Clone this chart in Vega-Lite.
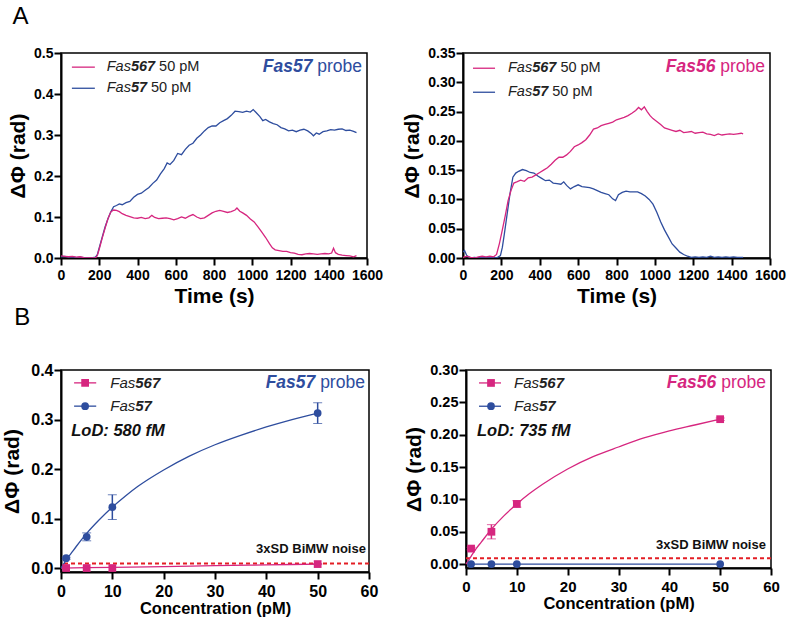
{
 "$schema": "https://vega.github.io/schema/vega-lite/v6.json",
 "background": "white",
 "padding": {"left": 1, "top": 4, "right": 0, "bottom": 0},
 "config": {
  "font": "Liberation Sans",
  "view": {"stroke": "black", "strokeWidth": 1.5},
  "axis": {"domainColor": "black", "domainWidth": 2, "tickColor": "black", "tickWidth": 2, "tickSize": 7, "labelColor": "black", "titleColor": "black", "labelFontWeight": "bold", "titleFontWeight": "bold", "grid": false, "labelOverlap": false, "labelFlush": false, "labelBound": false, "labelFont": "Liberation Sans", "titleFont": "Liberation Sans"},
  "text": {"font": "Liberation Sans", "color": "black"}
 },
 "datasets": {
  "a1": [
   {"series":"Fas57","time":0,"dphi":0.003},{"series":"Fas57","time":20,"dphi":0.004},{"series":"Fas57","time":40,"dphi":0.002},{"series":"Fas57","time":60,"dphi":0.003},{"series":"Fas57","time":80,"dphi":0.001},{"series":"Fas57","time":100,"dphi":0.002},{"series":"Fas57","time":120,"dphi":0.001},{"series":"Fas57","time":140,"dphi":0.0},{"series":"Fas57","time":160,"dphi":0.0},{"series":"Fas57","time":180,"dphi":0.002},{"series":"Fas57","time":190,"dphi":0.008},{"series":"Fas57","time":200,"dphi":0.025},{"series":"Fas57","time":215,"dphi":0.05},{"series":"Fas57","time":230,"dphi":0.075},{"series":"Fas57","time":245,"dphi":0.095},{"series":"Fas57","time":260,"dphi":0.112},{"series":"Fas57","time":275,"dphi":0.125},{"series":"Fas57","time":290,"dphi":0.128},{"series":"Fas57","time":305,"dphi":0.132},{"series":"Fas57","time":320,"dphi":0.13},{"series":"Fas57","time":340,"dphi":0.135},{"series":"Fas57","time":360,"dphi":0.138},{"series":"Fas57","time":380,"dphi":0.148},{"series":"Fas57","time":400,"dphi":0.155},{"series":"Fas57","time":420,"dphi":0.158},{"series":"Fas57","time":440,"dphi":0.165},{"series":"Fas57","time":460,"dphi":0.172},{"series":"Fas57","time":480,"dphi":0.182},{"series":"Fas57","time":500,"dphi":0.19},{"series":"Fas57","time":520,"dphi":0.205},{"series":"Fas57","time":540,"dphi":0.218},{"series":"Fas57","time":555,"dphi":0.232},{"series":"Fas57","time":570,"dphi":0.228},{"series":"Fas57","time":590,"dphi":0.238},{"series":"Fas57","time":610,"dphi":0.255},{"series":"Fas57","time":630,"dphi":0.252},{"series":"Fas57","time":650,"dphi":0.265},{"series":"Fas57","time":670,"dphi":0.275},{"series":"Fas57","time":690,"dphi":0.28},{"series":"Fas57","time":710,"dphi":0.292},{"series":"Fas57","time":730,"dphi":0.3},{"series":"Fas57","time":750,"dphi":0.31},{"series":"Fas57","time":770,"dphi":0.318},{"series":"Fas57","time":790,"dphi":0.322},{"series":"Fas57","time":810,"dphi":0.322},{"series":"Fas57","time":830,"dphi":0.33},{"series":"Fas57","time":850,"dphi":0.335},{"series":"Fas57","time":870,"dphi":0.34},{"series":"Fas57","time":890,"dphi":0.348},{"series":"Fas57","time":910,"dphi":0.358},{"series":"Fas57","time":930,"dphi":0.357},{"series":"Fas57","time":950,"dphi":0.355},{"series":"Fas57","time":970,"dphi":0.358},{"series":"Fas57","time":990,"dphi":0.356},{"series":"Fas57","time":1005,"dphi":0.362},{"series":"Fas57","time":1020,"dphi":0.355},{"series":"Fas57","time":1040,"dphi":0.345},{"series":"Fas57","time":1055,"dphi":0.335},{"series":"Fas57","time":1070,"dphi":0.338},{"series":"Fas57","time":1090,"dphi":0.332},{"series":"Fas57","time":1110,"dphi":0.328},{"series":"Fas57","time":1130,"dphi":0.325},{"series":"Fas57","time":1150,"dphi":0.318},{"series":"Fas57","time":1170,"dphi":0.315},{"series":"Fas57","time":1190,"dphi":0.31},{"series":"Fas57","time":1210,"dphi":0.312},{"series":"Fas57","time":1230,"dphi":0.308},{"series":"Fas57","time":1250,"dphi":0.312},{"series":"Fas57","time":1270,"dphi":0.314},{"series":"Fas57","time":1290,"dphi":0.31},{"series":"Fas57","time":1310,"dphi":0.303},{"series":"Fas57","time":1320,"dphi":0.298},{"series":"Fas57","time":1335,"dphi":0.305},{"series":"Fas57","time":1350,"dphi":0.302},{"series":"Fas57","time":1370,"dphi":0.308},{"series":"Fas57","time":1390,"dphi":0.31},{"series":"Fas57","time":1410,"dphi":0.313},{"series":"Fas57","time":1430,"dphi":0.312},{"series":"Fas57","time":1450,"dphi":0.314},{"series":"Fas57","time":1470,"dphi":0.315},{"series":"Fas57","time":1490,"dphi":0.311},{"series":"Fas57","time":1510,"dphi":0.312},{"series":"Fas57","time":1530,"dphi":0.309},{"series":"Fas57","time":1545,"dphi":0.306},
   {"series":"Fas567","time":0,"dphi":0.005},{"series":"Fas567","time":20,"dphi":0.004},{"series":"Fas567","time":40,"dphi":0.003},{"series":"Fas567","time":60,"dphi":0.004},{"series":"Fas567","time":80,"dphi":0.002},{"series":"Fas567","time":100,"dphi":0.003},{"series":"Fas567","time":120,"dphi":0.001},{"series":"Fas567","time":140,"dphi":0.0},{"series":"Fas567","time":160,"dphi":0.0},{"series":"Fas567","time":180,"dphi":0.0},{"series":"Fas567","time":190,"dphi":0.006},{"series":"Fas567","time":200,"dphi":0.022},{"series":"Fas567","time":215,"dphi":0.048},{"series":"Fas567","time":230,"dphi":0.072},{"series":"Fas567","time":245,"dphi":0.095},{"series":"Fas567","time":260,"dphi":0.112},{"series":"Fas567","time":275,"dphi":0.117},{"series":"Fas567","time":290,"dphi":0.116},{"series":"Fas567","time":305,"dphi":0.113},{"series":"Fas567","time":320,"dphi":0.108},{"series":"Fas567","time":340,"dphi":0.104},{"series":"Fas567","time":360,"dphi":0.101},{"series":"Fas567","time":380,"dphi":0.098},{"series":"Fas567","time":400,"dphi":0.097},{"series":"Fas567","time":420,"dphi":0.099},{"series":"Fas567","time":440,"dphi":0.096},{"series":"Fas567","time":460,"dphi":0.098},{"series":"Fas567","time":475,"dphi":0.104},{"series":"Fas567","time":490,"dphi":0.099},{"series":"Fas567","time":510,"dphi":0.096},{"series":"Fas567","time":530,"dphi":0.097},{"series":"Fas567","time":550,"dphi":0.098},{"series":"Fas567","time":570,"dphi":0.096},{"series":"Fas567","time":590,"dphi":0.093},{"series":"Fas567","time":610,"dphi":0.096},{"series":"Fas567","time":630,"dphi":0.1},{"series":"Fas567","time":650,"dphi":0.097},{"series":"Fas567","time":670,"dphi":0.102},{"series":"Fas567","time":690,"dphi":0.106},{"series":"Fas567","time":710,"dphi":0.1},{"series":"Fas567","time":730,"dphi":0.096},{"series":"Fas567","time":750,"dphi":0.098},{"series":"Fas567","time":770,"dphi":0.104},{"series":"Fas567","time":790,"dphi":0.11},{"series":"Fas567","time":810,"dphi":0.114},{"series":"Fas567","time":830,"dphi":0.116},{"series":"Fas567","time":850,"dphi":0.114},{"series":"Fas567","time":870,"dphi":0.111},{"series":"Fas567","time":890,"dphi":0.113},{"series":"Fas567","time":910,"dphi":0.117},{"series":"Fas567","time":920,"dphi":0.122},{"series":"Fas567","time":935,"dphi":0.114},{"series":"Fas567","time":950,"dphi":0.11},{"series":"Fas567","time":970,"dphi":0.104},{"series":"Fas567","time":990,"dphi":0.095},{"series":"Fas567","time":1010,"dphi":0.088},{"series":"Fas567","time":1030,"dphi":0.076},{"series":"Fas567","time":1050,"dphi":0.063},{"series":"Fas567","time":1070,"dphi":0.05},{"series":"Fas567","time":1090,"dphi":0.035},{"series":"Fas567","time":1105,"dphi":0.025},{"series":"Fas567","time":1120,"dphi":0.02},{"series":"Fas567","time":1140,"dphi":0.018},{"series":"Fas567","time":1160,"dphi":0.016},{"series":"Fas567","time":1180,"dphi":0.016},{"series":"Fas567","time":1200,"dphi":0.013},{"series":"Fas567","time":1220,"dphi":0.012},{"series":"Fas567","time":1240,"dphi":0.009},{"series":"Fas567","time":1260,"dphi":0.008},{"series":"Fas567","time":1280,"dphi":0.01},{"series":"Fas567","time":1300,"dphi":0.011},{"series":"Fas567","time":1320,"dphi":0.01},{"series":"Fas567","time":1340,"dphi":0.009},{"series":"Fas567","time":1360,"dphi":0.01},{"series":"Fas567","time":1380,"dphi":0.011},{"series":"Fas567","time":1400,"dphi":0.01},{"series":"Fas567","time":1415,"dphi":0.012},{"series":"Fas567","time":1425,"dphi":0.024},{"series":"Fas567","time":1435,"dphi":0.013},{"series":"Fas567","time":1450,"dphi":0.009},{"series":"Fas567","time":1470,"dphi":0.007},{"series":"Fas567","time":1490,"dphi":0.006},{"series":"Fas567","time":1510,"dphi":0.005},{"series":"Fas567","time":1530,"dphi":0.003},{"series":"Fas567","time":1545,"dphi":0.006}
  ],
  "a2": [
   {"series":"Fas57","time":0,"dphi":0.01},{"series":"Fas57","time":8,"dphi":0.013},{"series":"Fas57","time":20,"dphi":0.004},{"series":"Fas57","time":40,"dphi":0.0},{"series":"Fas57","time":60,"dphi":0.001},{"series":"Fas57","time":80,"dphi":0.0},{"series":"Fas57","time":100,"dphi":0.001},{"series":"Fas57","time":120,"dphi":0.0},{"series":"Fas57","time":140,"dphi":0.001},{"series":"Fas57","time":160,"dphi":0.0},{"series":"Fas57","time":180,"dphi":0.001},{"series":"Fas57","time":195,"dphi":0.004},{"series":"Fas57","time":205,"dphi":0.018},{"series":"Fas57","time":215,"dphi":0.04},{"series":"Fas57","time":230,"dphi":0.075},{"series":"Fas57","time":245,"dphi":0.11},{"series":"Fas57","time":260,"dphi":0.138},{"series":"Fas57","time":275,"dphi":0.145},{"series":"Fas57","time":290,"dphi":0.148},{"series":"Fas57","time":310,"dphi":0.151},{"series":"Fas57","time":330,"dphi":0.149},{"series":"Fas57","time":350,"dphi":0.146},{"series":"Fas57","time":370,"dphi":0.145},{"series":"Fas57","time":390,"dphi":0.14},{"series":"Fas57","time":410,"dphi":0.136},{"series":"Fas57","time":430,"dphi":0.132},{"series":"Fas57","time":450,"dphi":0.133},{"series":"Fas57","time":470,"dphi":0.128},{"series":"Fas57","time":490,"dphi":0.127},{"series":"Fas57","time":510,"dphi":0.126},{"series":"Fas57","time":525,"dphi":0.13},{"series":"Fas57","time":540,"dphi":0.124},{"series":"Fas57","time":560,"dphi":0.118},{"series":"Fas57","time":580,"dphi":0.122},{"series":"Fas57","time":600,"dphi":0.125},{"series":"Fas57","time":620,"dphi":0.122},{"series":"Fas57","time":640,"dphi":0.121},{"series":"Fas57","time":660,"dphi":0.12},{"series":"Fas57","time":680,"dphi":0.118},{"series":"Fas57","time":700,"dphi":0.115},{"series":"Fas57","time":720,"dphi":0.112},{"series":"Fas57","time":740,"dphi":0.11},{"series":"Fas57","time":760,"dphi":0.108},{"series":"Fas57","time":780,"dphi":0.101},{"series":"Fas57","time":795,"dphi":0.098},{"series":"Fas57","time":810,"dphi":0.108},{"series":"Fas57","time":830,"dphi":0.112},{"series":"Fas57","time":850,"dphi":0.114},{"series":"Fas57","time":870,"dphi":0.113},{"series":"Fas57","time":890,"dphi":0.113},{"series":"Fas57","time":910,"dphi":0.113},{"series":"Fas57","time":930,"dphi":0.11},{"series":"Fas57","time":950,"dphi":0.106},{"series":"Fas57","time":970,"dphi":0.1},{"series":"Fas57","time":990,"dphi":0.092},{"series":"Fas57","time":1010,"dphi":0.078},{"series":"Fas57","time":1030,"dphi":0.062},{"series":"Fas57","time":1050,"dphi":0.048},{"series":"Fas57","time":1070,"dphi":0.036},{"series":"Fas57","time":1090,"dphi":0.024},{"series":"Fas57","time":1110,"dphi":0.017},{"series":"Fas57","time":1130,"dphi":0.01},{"series":"Fas57","time":1150,"dphi":0.006},{"series":"Fas57","time":1170,"dphi":0.003},{"series":"Fas57","time":1190,"dphi":0.001},{"series":"Fas57","time":1210,"dphi":0.002},{"series":"Fas57","time":1230,"dphi":0.001},{"series":"Fas57","time":1250,"dphi":0.002},{"series":"Fas57","time":1270,"dphi":0.001},{"series":"Fas57","time":1290,"dphi":0.003},{"series":"Fas57","time":1310,"dphi":0.001},{"series":"Fas57","time":1330,"dphi":0.002},{"series":"Fas57","time":1350,"dphi":0.001},{"series":"Fas57","time":1370,"dphi":0.002},{"series":"Fas57","time":1390,"dphi":0.001},{"series":"Fas57","time":1410,"dphi":0.002},{"series":"Fas57","time":1430,"dphi":0.001},{"series":"Fas57","time":1450,"dphi":0.001},{"series":"Fas57","time":1460,"dphi":0.001},
   {"series":"Fas567","time":0,"dphi":0.001},{"series":"Fas567","time":20,"dphi":0.003},{"series":"Fas567","time":40,"dphi":0.001},{"series":"Fas567","time":60,"dphi":0.0},{"series":"Fas567","time":80,"dphi":0.002},{"series":"Fas567","time":100,"dphi":0.003},{"series":"Fas567","time":120,"dphi":0.002},{"series":"Fas567","time":140,"dphi":0.003},{"series":"Fas567","time":160,"dphi":0.002},{"series":"Fas567","time":175,"dphi":0.006},{"series":"Fas567","time":190,"dphi":0.025},{"series":"Fas567","time":205,"dphi":0.048},{"series":"Fas567","time":220,"dphi":0.072},{"series":"Fas567","time":235,"dphi":0.098},{"series":"Fas567","time":250,"dphi":0.115},{"series":"Fas567","time":265,"dphi":0.128},{"series":"Fas567","time":280,"dphi":0.13},{"series":"Fas567","time":300,"dphi":0.133},{"series":"Fas567","time":320,"dphi":0.131},{"series":"Fas567","time":340,"dphi":0.137},{"series":"Fas567","time":360,"dphi":0.138},{"series":"Fas567","time":380,"dphi":0.142},{"series":"Fas567","time":400,"dphi":0.146},{"series":"Fas567","time":420,"dphi":0.15},{"series":"Fas567","time":440,"dphi":0.154},{"series":"Fas567","time":460,"dphi":0.16},{"series":"Fas567","time":480,"dphi":0.167},{"series":"Fas567","time":500,"dphi":0.172},{"series":"Fas567","time":520,"dphi":0.172},{"series":"Fas567","time":540,"dphi":0.176},{"series":"Fas567","time":560,"dphi":0.182},{"series":"Fas567","time":580,"dphi":0.19},{"series":"Fas567","time":600,"dphi":0.193},{"series":"Fas567","time":620,"dphi":0.197},{"series":"Fas567","time":640,"dphi":0.202},{"series":"Fas567","time":660,"dphi":0.21},{"series":"Fas567","time":680,"dphi":0.22},{"series":"Fas567","time":700,"dphi":0.222},{"series":"Fas567","time":720,"dphi":0.226},{"series":"Fas567","time":740,"dphi":0.228},{"series":"Fas567","time":760,"dphi":0.23},{"series":"Fas567","time":780,"dphi":0.232},{"series":"Fas567","time":800,"dphi":0.236},{"series":"Fas567","time":820,"dphi":0.238},{"series":"Fas567","time":840,"dphi":0.24},{"series":"Fas567","time":860,"dphi":0.243},{"series":"Fas567","time":880,"dphi":0.247},{"series":"Fas567","time":900,"dphi":0.252},{"series":"Fas567","time":915,"dphi":0.257},{"series":"Fas567","time":930,"dphi":0.253},{"series":"Fas567","time":945,"dphi":0.258},{"series":"Fas567","time":960,"dphi":0.25},{"series":"Fas567","time":975,"dphi":0.243},{"series":"Fas567","time":990,"dphi":0.238},{"series":"Fas567","time":1010,"dphi":0.233},{"series":"Fas567","time":1030,"dphi":0.228},{"series":"Fas567","time":1050,"dphi":0.222},{"series":"Fas567","time":1070,"dphi":0.22},{"series":"Fas567","time":1090,"dphi":0.218},{"series":"Fas567","time":1110,"dphi":0.216},{"series":"Fas567","time":1130,"dphi":0.218},{"series":"Fas567","time":1150,"dphi":0.214},{"series":"Fas567","time":1170,"dphi":0.215},{"series":"Fas567","time":1190,"dphi":0.216},{"series":"Fas567","time":1210,"dphi":0.213},{"series":"Fas567","time":1230,"dphi":0.214},{"series":"Fas567","time":1250,"dphi":0.215},{"series":"Fas567","time":1270,"dphi":0.212},{"series":"Fas567","time":1290,"dphi":0.211},{"series":"Fas567","time":1310,"dphi":0.209},{"series":"Fas567","time":1330,"dphi":0.212},{"series":"Fas567","time":1350,"dphi":0.21},{"series":"Fas567","time":1370,"dphi":0.211},{"series":"Fas567","time":1390,"dphi":0.212},{"series":"Fas567","time":1410,"dphi":0.211},{"series":"Fas567","time":1430,"dphi":0.212},{"series":"Fas567","time":1450,"dphi":0.213},{"series":"Fas567","time":1460,"dphi":0.212}
  ],
  "b1p": [
   {"series":"Fas567","conc":1,"dphi":0.0,"err":0},{"series":"Fas567","conc":5,"dphi":0.0,"err":0},{"series":"Fas567","conc":10,"dphi":0.0,"err":0},{"series":"Fas567","conc":50,"dphi":0.008,"err":0.001},
   {"series":"Fas57","conc":1,"dphi":0.02,"err":0.002},{"series":"Fas57","conc":5,"dphi":0.063,"err":0.008},{"series":"Fas57","conc":10,"dphi":0.123,"err":0.025},{"series":"Fas57","conc":50,"dphi":0.313,"err":0.021}
  ],
  "b1f": [
   {"series":"Fas567","conc":0,"dphi":0.0},{"series":"Fas567","conc":10,"dphi":0.0015},{"series":"Fas567","conc":20,"dphi":0.003},{"series":"Fas567","conc":30,"dphi":0.0048},{"series":"Fas567","conc":40,"dphi":0.0064},{"series":"Fas567","conc":50,"dphi":0.008},
   {"series":"Fas57","conc":0,"dphi":0.0},{"series":"Fas57","conc":1,"dphi":0.016},{"series":"Fas57","conc":2,"dphi":0.03},{"series":"Fas57","conc":3,"dphi":0.044},{"series":"Fas57","conc":5,"dphi":0.07},{"series":"Fas57","conc":7.5,"dphi":0.098},{"series":"Fas57","conc":10,"dphi":0.123},{"series":"Fas57","conc":12.5,"dphi":0.145},{"series":"Fas57","conc":15,"dphi":0.165},{"series":"Fas57","conc":20,"dphi":0.198},{"series":"Fas57","conc":25,"dphi":0.226},{"series":"Fas57","conc":30,"dphi":0.249},{"series":"Fas57","conc":35,"dphi":0.268},{"series":"Fas57","conc":40,"dphi":0.285},{"series":"Fas57","conc":45,"dphi":0.3},{"series":"Fas57","conc":50,"dphi":0.313}
  ],
  "b2p": [
   {"series":"Fas57","conc":1,"dphi":0.0,"err":0},{"series":"Fas57","conc":5,"dphi":0.0,"err":0},{"series":"Fas57","conc":10,"dphi":0.0,"err":0},{"series":"Fas57","conc":50,"dphi":0.0,"err":0},
   {"series":"Fas567","conc":1,"dphi":0.024,"err":0.002},{"series":"Fas567","conc":5,"dphi":0.05,"err":0.011},{"series":"Fas567","conc":10,"dphi":0.093,"err":0.005},{"series":"Fas567","conc":50,"dphi":0.224,"err":0.002}
  ],
  "b2f": [
   {"series":"Fas57","conc":1,"dphi":0.0},{"series":"Fas57","conc":50,"dphi":0.0},
   {"series":"Fas567","conc":0,"dphi":0.0},{"series":"Fas567","conc":1,"dphi":0.012},{"series":"Fas567","conc":2,"dphi":0.024},{"series":"Fas567","conc":3,"dphi":0.034},{"series":"Fas567","conc":5,"dphi":0.054},{"series":"Fas567","conc":7.5,"dphi":0.075},{"series":"Fas567","conc":10,"dphi":0.093},{"series":"Fas567","conc":12.5,"dphi":0.109},{"series":"Fas567","conc":15,"dphi":0.123},{"series":"Fas567","conc":20,"dphi":0.147},{"series":"Fas567","conc":25,"dphi":0.166},{"series":"Fas567","conc":30,"dphi":0.181},{"series":"Fas567","conc":35,"dphi":0.195},{"series":"Fas567","conc":40,"dphi":0.206},{"series":"Fas567","conc":45,"dphi":0.215},{"series":"Fas567","conc":50,"dphi":0.224}
  ]
 },
 "bounds": "full",
 "spacing": 30,
 "vconcat": [
  {
   "bounds": "flush",
   "spacing": 96,
   "hconcat": [
    {
     "width": 306, "height": 205,
     "layer": [
      {"data": {"name": "a1"}, "mark": {"type": "line", "strokeWidth": 1.3, "clip": true},
       "encoding": {
        "x": {"field": "time", "type": "quantitative", "scale": {"domain": [0, 1600], "nice": false, "zero": false}, "axis": {"title": "Time (s)", "values": [0,200,400,600,800,1000,1200,1400,1600], "tickCount": 20, "format": "d", "labelFontSize": 14, "titleFontSize": 21, "labelPadding": 3, "titlePadding": 3, "labelOverlap": false}},
        "y": {"field": "dphi", "type": "quantitative", "scale": {"domain": [0, 0.5], "nice": false}, "axis": {"title": "ΔΦ (rad)", "values": [0,0.1,0.2,0.3,0.4,0.5], "tickCount": 20, "format": ".1f", "labelFontSize": 14, "titleFontSize": 21, "labelPadding": 1, "titlePadding": 5, "labelOverlap": false}},
        "color": {"field": "series", "type": "nominal", "scale": {"domain": ["Fas567", "Fas57"], "range": ["#d6267f", "#2e4d9e"]}, "legend": null}
       }},
      {"data": {"values": [{"label": "A"}]}, "mark": {"type": "text", "fontSize": 24, "align": "left", "baseline": "alphabetic"}, "encoding": {"x": {"datum": -254}, "y": {"datum": 0.571}, "text": {"field": "label"}}},
      {"data": {"values": [{"label": "B"}]}, "mark": {"type": "text", "fontSize": 24, "align": "left", "baseline": "alphabetic"}, "encoding": {"x": {"datum": -244}, "y": {"datum": -0.163}, "text": {"field": "label"}}},
      {"data": {"values": [{}]}, "mark": {"type": "rule", "color": "#d6267f", "strokeWidth": 1.3}, "encoding": {"x": {"datum": 57}, "x2": {"datum": 177}, "y": {"datum": 0.4655}}},
      {"data": {"values": [{}]}, "mark": {"type": "rule", "color": "#2e4d9e", "strokeWidth": 1.3}, "encoding": {"x": {"datum": 57}, "x2": {"datum": 177}, "y": {"datum": 0.414}}},
      {"data": {"values": [{"label": "Fas"}]}, "mark": {"type": "text", "fontSize": 14.5, "fontStyle": "italic", "align": "left", "baseline": "middle", "color": "#222"}, "encoding": {"x": {"datum": 239}, "y": {"datum": 0.4655}, "text": {"field": "label"}}},
      {"data": {"values": [{"label": "567"}]}, "mark": {"type": "text", "fontSize": 14.5, "fontStyle": "italic", "fontWeight": "bold", "align": "left", "baseline": "middle", "dx": 24.2, "color": "#222"}, "encoding": {"x": {"datum": 239}, "y": {"datum": 0.4655}, "text": {"field": "label"}}},
      {"data": {"values": [{"label": "50 pM"}]}, "mark": {"type": "text", "fontSize": 14.5, "align": "left", "baseline": "middle", "dx": 52.4, "color": "#222"}, "encoding": {"x": {"datum": 239}, "y": {"datum": 0.4655}, "text": {"field": "label"}}},
      {"data": {"values": [{"label": "Fas"}]}, "mark": {"type": "text", "fontSize": 14.5, "fontStyle": "italic", "align": "left", "baseline": "middle", "color": "#222"}, "encoding": {"x": {"datum": 239}, "y": {"datum": 0.414}, "text": {"field": "label"}}},
      {"data": {"values": [{"label": "57"}]}, "mark": {"type": "text", "fontSize": 14.5, "fontStyle": "italic", "fontWeight": "bold", "align": "left", "baseline": "middle", "dx": 24.2, "color": "#222"}, "encoding": {"x": {"datum": 239}, "y": {"datum": 0.414}, "text": {"field": "label"}}},
      {"data": {"values": [{"label": "50 pM"}]}, "mark": {"type": "text", "fontSize": 14.5, "align": "left", "baseline": "middle", "dx": 44.3, "color": "#222"}, "encoding": {"x": {"datum": 239}, "y": {"datum": 0.414}, "text": {"field": "label"}}},
      {"data": {"values": [{"label": "probe"}]}, "mark": {"type": "text", "fontSize": 17.5, "align": "right", "baseline": "middle", "color": "#2e4d9e"}, "encoding": {"x": {"datum": 1574}, "y": {"datum": 0.4655}, "text": {"field": "label"}}},
      {"data": {"values": [{"label": "Fas57"}]}, "mark": {"type": "text", "fontSize": 17.5, "fontStyle": "italic", "fontWeight": "bold", "align": "right", "baseline": "middle", "dx": -49.6, "color": "#2e4d9e"}, "encoding": {"x": {"datum": 1574}, "y": {"datum": 0.4655}, "text": {"field": "label"}}}
     ]
    },
    {
     "width": 307, "height": 205,
     "layer": [
      {"data": {"name": "a2"}, "mark": {"type": "line", "strokeWidth": 1.3, "clip": true},
       "encoding": {
        "x": {"field": "time", "type": "quantitative", "scale": {"domain": [0, 1600], "nice": false, "zero": false}, "axis": {"title": "Time (s)", "values": [0,200,400,600,800,1000,1200,1400,1600], "tickCount": 20, "format": "d", "labelFontSize": 14, "titleFontSize": 21, "labelPadding": 3, "titlePadding": 3, "labelOverlap": false}},
        "y": {"field": "dphi", "type": "quantitative", "scale": {"domain": [0, 0.35], "nice": false}, "axis": {"title": "ΔΦ (rad)", "values": [0,0.05,0.1,0.15,0.2,0.25,0.3,0.35], "tickCount": 20, "format": ".2f", "labelFontSize": 14, "titleFontSize": 21, "labelPadding": 1, "titlePadding": 5, "labelOverlap": false}},
        "color": {"field": "series", "type": "nominal", "scale": {"domain": ["Fas567", "Fas57"], "range": ["#d6267f", "#2e4d9e"]}, "legend": null}
       }},
      {"data": {"values": [{}]}, "mark": {"type": "rule", "color": "#d6267f", "strokeWidth": 1.3}, "encoding": {"x": {"datum": 52}, "x2": {"datum": 167}, "y": {"datum": 0.324}}},
      {"data": {"values": [{}]}, "mark": {"type": "rule", "color": "#2e4d9e", "strokeWidth": 1.3}, "encoding": {"x": {"datum": 52}, "x2": {"datum": 167}, "y": {"datum": 0.283}}},
      {"data": {"values": [{"label": "Fas"}]}, "mark": {"type": "text", "fontSize": 14.5, "fontStyle": "italic", "align": "left", "baseline": "middle", "color": "#222"}, "encoding": {"x": {"datum": 234.5}, "y": {"datum": 0.324}, "text": {"field": "label"}}},
      {"data": {"values": [{"label": "567"}]}, "mark": {"type": "text", "fontSize": 14.5, "fontStyle": "italic", "fontWeight": "bold", "align": "left", "baseline": "middle", "dx": 24.2, "color": "#222"}, "encoding": {"x": {"datum": 234.5}, "y": {"datum": 0.324}, "text": {"field": "label"}}},
      {"data": {"values": [{"label": "50 pM"}]}, "mark": {"type": "text", "fontSize": 14.5, "align": "left", "baseline": "middle", "dx": 52.4, "color": "#222"}, "encoding": {"x": {"datum": 234.5}, "y": {"datum": 0.324}, "text": {"field": "label"}}},
      {"data": {"values": [{"label": "Fas"}]}, "mark": {"type": "text", "fontSize": 14.5, "fontStyle": "italic", "align": "left", "baseline": "middle", "color": "#222"}, "encoding": {"x": {"datum": 234.5}, "y": {"datum": 0.283}, "text": {"field": "label"}}},
      {"data": {"values": [{"label": "57"}]}, "mark": {"type": "text", "fontSize": 14.5, "fontStyle": "italic", "fontWeight": "bold", "align": "left", "baseline": "middle", "dx": 24.2, "color": "#222"}, "encoding": {"x": {"datum": 234.5}, "y": {"datum": 0.283}, "text": {"field": "label"}}},
      {"data": {"values": [{"label": "50 pM"}]}, "mark": {"type": "text", "fontSize": 14.5, "align": "left", "baseline": "middle", "dx": 44.3, "color": "#222"}, "encoding": {"x": {"datum": 234.5}, "y": {"datum": 0.283}, "text": {"field": "label"}}},
      {"data": {"values": [{"label": "probe"}]}, "mark": {"type": "text", "fontSize": 17.5, "align": "right", "baseline": "middle", "color": "#d6267f"}, "encoding": {"x": {"datum": 1574}, "y": {"datum": 0.326}, "text": {"field": "label"}}},
      {"data": {"values": [{"label": "Fas56"}]}, "mark": {"type": "text", "fontSize": 17.5, "fontStyle": "italic", "fontWeight": "bold", "align": "right", "baseline": "middle", "dx": -49.6, "color": "#d6267f"}, "encoding": {"x": {"datum": 1574}, "y": {"datum": 0.326}, "text": {"field": "label"}}}
     ]
    }
   ]
  },
  {
   "bounds": "flush",
   "spacing": 97,
   "hconcat": [
    {
     "width": 308, "height": 202,
     "layer": [
      {"data": {"values": [{}]}, "mark": {"type": "rule", "color": "#e31e24", "strokeWidth": 2, "strokeDash": [4, 3]}, "encoding": {"y": {"datum": 0.009}}},
      {"data": {"name": "b1f"}, "mark": {"type": "line", "strokeWidth": 1.3, "interpolate": "monotone"},
       "encoding": {
        "x": {"field": "conc", "type": "quantitative", "title": "Concentration (pM)", "scale": {"domain": [0, 60], "nice": false, "zero": false}, "axis": {"values": [0,10,20,30,40,50,60], "tickCount": 20, "labelFontSize": 16, "titleFontSize": 16.5, "labelPadding": 4, "titlePadding": 1, "labelOverlap": false}},
        "y": {"field": "dphi", "type": "quantitative", "title": "ΔΦ (rad)", "scale": {"domain": [-0.008, 0.4], "nice": false, "zero": false}, "axis": {"values": [0,0.1,0.2,0.3,0.4], "tickCount": 20, "format": ".1f", "labelFontSize": 16, "titleFontSize": 21, "labelPadding": 1, "titlePadding": 8, "labelOverlap": false}},
        "color": {"field": "series", "type": "nominal", "scale": {"domain": ["Fas567", "Fas57"], "range": ["#d6267f", "#2e4d9e"]}, "legend": null}
       }},
      {"data": {"name": "b1p"}, "transform": [{"filter": "datum.err > 0"}], "mark": {"type": "errorbar", "ticks": {"size": 9}, "rule": {"strokeWidth": 1.5}},
       "encoding": {"x": {"field": "conc", "type": "quantitative", "title": "Concentration (pM)"}, "y": {"field": "dphi", "type": "quantitative", "title": "ΔΦ (rad)"}, "yError": {"field": "err"}, "color": {"field": "series", "type": "nominal", "legend": null}}},
      {"data": {"name": "b1p"}, "mark": {"type": "point", "filled": true, "opacity": 1},
       "encoding": {"x": {"field": "conc", "type": "quantitative", "title": "Concentration (pM)"}, "y": {"field": "dphi", "type": "quantitative", "title": "ΔΦ (rad)"}, "color": {"field": "series", "type": "nominal", "legend": null}, "shape": {"field": "series", "type": "nominal", "scale": {"domain": ["Fas567", "Fas57"], "range": ["square", "circle"]}, "legend": null}, "size": {"value": 60}}},
      {"data": {"values": [{}]}, "mark": {"type": "rule", "color": "#d6267f", "strokeWidth": 1.3}, "encoding": {"x": {"datum": 2.55}, "x2": {"datum": 6.86}, "y": {"datum": 0.374}}},
      {"data": {"values": [{}]}, "mark": {"type": "rule", "color": "#2e4d9e", "strokeWidth": 1.3}, "encoding": {"x": {"datum": 2.55}, "x2": {"datum": 6.86}, "y": {"datum": 0.327}}},
      {"data": {"values": [{}]}, "mark": {"type": "point", "shape": "square", "filled": true, "opacity": 1, "size": 60, "color": "#d6267f"}, "encoding": {"x": {"datum": 4.7}, "y": {"datum": 0.374}}},
      {"data": {"values": [{}]}, "mark": {"type": "point", "shape": "circle", "filled": true, "opacity": 1, "size": 60, "color": "#2e4d9e"}, "encoding": {"x": {"datum": 4.7}, "y": {"datum": 0.327}}},
      {"data": {"values": [{"label": "Fas"}]}, "mark": {"type": "text", "fontSize": 15, "fontStyle": "italic", "align": "left", "baseline": "middle", "color": "#222"}, "encoding": {"x": {"datum": 9.6}, "y": {"datum": 0.374}, "text": {"field": "label"}}},
      {"data": {"values": [{"label": "567"}]}, "mark": {"type": "text", "fontSize": 15, "fontStyle": "italic", "fontWeight": "bold", "align": "left", "baseline": "middle", "dx": 25, "color": "#222"}, "encoding": {"x": {"datum": 9.6}, "y": {"datum": 0.374}, "text": {"field": "label"}}},
      {"data": {"values": [{"label": "Fas"}]}, "mark": {"type": "text", "fontSize": 15, "fontStyle": "italic", "align": "left", "baseline": "middle", "color": "#222"}, "encoding": {"x": {"datum": 9.6}, "y": {"datum": 0.327}, "text": {"field": "label"}}},
      {"data": {"values": [{"label": "57"}]}, "mark": {"type": "text", "fontSize": 15, "fontStyle": "italic", "fontWeight": "bold", "align": "left", "baseline": "middle", "dx": 25, "color": "#222"}, "encoding": {"x": {"datum": 9.6}, "y": {"datum": 0.327}, "text": {"field": "label"}}},
      {"data": {"values": [{"label": "probe"}]}, "mark": {"type": "text", "fontSize": 17.5, "align": "right", "baseline": "middle", "color": "#2e4d9e"}, "encoding": {"x": {"datum": 59.2}, "y": {"datum": 0.374}, "text": {"field": "label"}}},
      {"data": {"values": [{"label": "Fas57"}]}, "mark": {"type": "text", "fontSize": 17.5, "fontStyle": "italic", "fontWeight": "bold", "align": "right", "baseline": "middle", "dx": -49.6, "color": "#2e4d9e"}, "encoding": {"x": {"datum": 59.2}, "y": {"datum": 0.374}, "text": {"field": "label"}}},
      {"data": {"values": [{"label": "LoD: 580 fM"}]}, "mark": {"type": "text", "fontSize": 16.5, "fontStyle": "italic", "fontWeight": "bold", "align": "left", "baseline": "middle", "color": "#111"}, "encoding": {"x": {"datum": 2.0}, "y": {"datum": 0.277}, "text": {"field": "label"}}},
      {"data": {"values": [{"label": "3xSD BiMW noise"}]}, "mark": {"type": "text", "fontSize": 13, "fontWeight": "bold", "align": "right", "baseline": "alphabetic", "color": "#111"}, "encoding": {"x": {"datum": 59.4}, "y": {"datum": 0.031}, "text": {"field": "label"}}}
     ]
    },
    {
     "width": 305, "height": 198,
     "layer": [
      {"data": {"values": [{}]}, "mark": {"type": "rule", "color": "#e31e24", "strokeWidth": 2, "strokeDash": [4, 3]}, "encoding": {"y": {"datum": 0.009}}},
      {"data": {"name": "b2f"}, "mark": {"type": "line", "strokeWidth": 1.3, "interpolate": "monotone"},
       "encoding": {
        "x": {"field": "conc", "type": "quantitative", "title": "Concentration (pM)", "scale": {"domain": [0, 60], "nice": false, "zero": false}, "axis": {"values": [0,10,20,30,40,50,60], "tickCount": 20, "labelFontSize": 15, "titleFontSize": 16.5, "labelPadding": 4, "titlePadding": 1, "labelOverlap": false}},
        "y": {"field": "dphi", "type": "quantitative", "title": "ΔΦ (rad)", "scale": {"domain": [-0.006, 0.3], "nice": false, "zero": false}, "axis": {"values": [0,0.05,0.1,0.15,0.2,0.25,0.3], "tickCount": 20, "format": ".2f", "labelFontSize": 14.5, "titleFontSize": 21, "labelPadding": 1, "titlePadding": 5, "labelOverlap": false}},
        "color": {"field": "series", "type": "nominal", "scale": {"domain": ["Fas567", "Fas57"], "range": ["#d6267f", "#2e4d9e"]}, "legend": null}
       }},
      {"data": {"name": "b2p"}, "transform": [{"filter": "datum.err > 0"}], "mark": {"type": "errorbar", "ticks": {"size": 9}, "rule": {"strokeWidth": 1.5}},
       "encoding": {"x": {"field": "conc", "type": "quantitative", "title": "Concentration (pM)"}, "y": {"field": "dphi", "type": "quantitative", "title": "ΔΦ (rad)"}, "yError": {"field": "err"}, "color": {"field": "series", "type": "nominal", "legend": null}}},
      {"data": {"name": "b2p"}, "mark": {"type": "point", "filled": true, "opacity": 1},
       "encoding": {"x": {"field": "conc", "type": "quantitative", "title": "Concentration (pM)"}, "y": {"field": "dphi", "type": "quantitative", "title": "ΔΦ (rad)"}, "color": {"field": "series", "type": "nominal", "legend": null}, "shape": {"field": "series", "type": "nominal", "scale": {"domain": ["Fas567", "Fas57"], "range": ["square", "circle"]}, "legend": null}, "size": {"value": 60}}},
      {"data": {"values": [{}]}, "mark": {"type": "rule", "color": "#d6267f", "strokeWidth": 1.3}, "encoding": {"x": {"datum": 2.56}, "x2": {"datum": 6.89}, "y": {"datum": 0.28}}},
      {"data": {"values": [{}]}, "mark": {"type": "rule", "color": "#2e4d9e", "strokeWidth": 1.3}, "encoding": {"x": {"datum": 2.56}, "x2": {"datum": 6.89}, "y": {"datum": 0.244}}},
      {"data": {"values": [{}]}, "mark": {"type": "point", "shape": "square", "filled": true, "opacity": 1, "size": 60, "color": "#d6267f"}, "encoding": {"x": {"datum": 4.92}, "y": {"datum": 0.28}}},
      {"data": {"values": [{}]}, "mark": {"type": "point", "shape": "circle", "filled": true, "opacity": 1, "size": 60, "color": "#2e4d9e"}, "encoding": {"x": {"datum": 4.92}, "y": {"datum": 0.244}}},
      {"data": {"values": [{"label": "Fas"}]}, "mark": {"type": "text", "fontSize": 15, "fontStyle": "italic", "align": "left", "baseline": "middle", "color": "#222"}, "encoding": {"x": {"datum": 9.44}, "y": {"datum": 0.28}, "text": {"field": "label"}}},
      {"data": {"values": [{"label": "567"}]}, "mark": {"type": "text", "fontSize": 15, "fontStyle": "italic", "fontWeight": "bold", "align": "left", "baseline": "middle", "dx": 25, "color": "#222"}, "encoding": {"x": {"datum": 9.44}, "y": {"datum": 0.28}, "text": {"field": "label"}}},
      {"data": {"values": [{"label": "Fas"}]}, "mark": {"type": "text", "fontSize": 15, "fontStyle": "italic", "align": "left", "baseline": "middle", "color": "#222"}, "encoding": {"x": {"datum": 9.44}, "y": {"datum": 0.244}, "text": {"field": "label"}}},
      {"data": {"values": [{"label": "57"}]}, "mark": {"type": "text", "fontSize": 15, "fontStyle": "italic", "fontWeight": "bold", "align": "left", "baseline": "middle", "dx": 25, "color": "#222"}, "encoding": {"x": {"datum": 9.44}, "y": {"datum": 0.244}, "text": {"field": "label"}}},
      {"data": {"values": [{"label": "probe"}]}, "mark": {"type": "text", "fontSize": 17.5, "align": "right", "baseline": "middle", "color": "#d6267f"}, "encoding": {"x": {"datum": 59.0}, "y": {"datum": 0.28}, "text": {"field": "label"}}},
      {"data": {"values": [{"label": "Fas56"}]}, "mark": {"type": "text", "fontSize": 17.5, "fontStyle": "italic", "fontWeight": "bold", "align": "right", "baseline": "middle", "dx": -49.6, "color": "#d6267f"}, "encoding": {"x": {"datum": 59.0}, "y": {"datum": 0.28}, "text": {"field": "label"}}},
      {"data": {"values": [{"label": "LoD: 735 fM"}]}, "mark": {"type": "text", "fontSize": 16.5, "fontStyle": "italic", "fontWeight": "bold", "align": "left", "baseline": "middle", "color": "#111"}, "encoding": {"x": {"datum": 2.16}, "y": {"datum": 0.2057}, "text": {"field": "label"}}},
      {"data": {"values": [{"label": "3xSD BiMW noise"}]}, "mark": {"type": "text", "fontSize": 13, "fontWeight": "bold", "align": "right", "baseline": "alphabetic", "color": "#111"}, "encoding": {"x": {"datum": 59.0}, "y": {"datum": 0.0232}, "text": {"field": "label"}}}
     ]
    }
   ]
  }
 ]
}
